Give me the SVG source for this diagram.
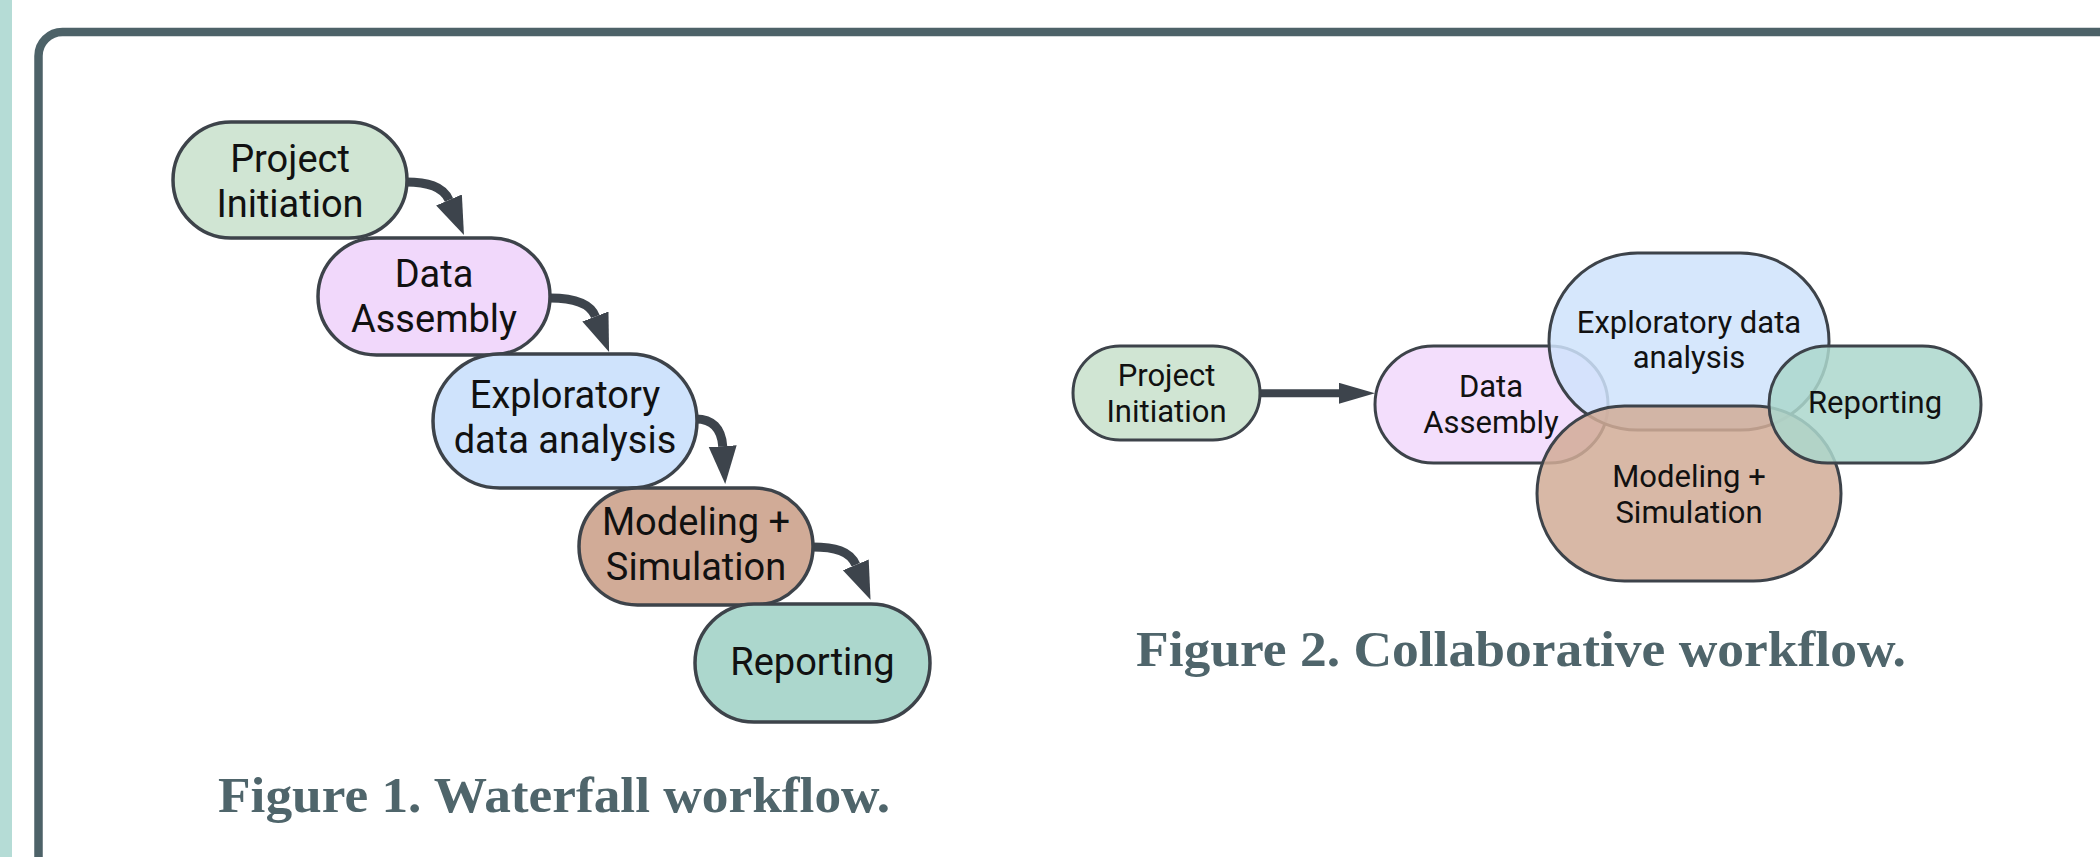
<svg xmlns="http://www.w3.org/2000/svg" width="2100" height="857" viewBox="0 0 2100 857">
<style>
.node{stroke:#3d434a;stroke-width:3.5}
.n2{stroke:#3d434a;stroke-width:3}
.t1{font-family:Roboto,"Liberation Sans",sans-serif;font-size:38px;fill:#111;text-anchor:middle}
.t2{font-family:Roboto,"Liberation Sans",sans-serif;font-size:31px;fill:#111;text-anchor:middle}
.cap{font-family:"Liberation Serif",serif;font-weight:bold;font-size:51px;fill:#4f656b}
.arr{fill:none;stroke:#3d444c;stroke-width:9}
.arr2{fill:none;stroke:#3d444c;stroke-width:8}
.pi{fill:#d0e5d3}.da{fill:#f1d8fb}.ex{fill:#cfe3fc}.mo{fill:#d1ab97}.re{fill:#acd7cd}
.tr{fill-opacity:.85}
</style>
<defs>
<marker id="head1" markerUnits="userSpaceOnUse" markerWidth="40" markerHeight="30" refX="0" refY="14" orient="auto"><path d="M0,0 L38,14 L0,28 z" fill="#3d444c"/></marker>
<marker id="head2" markerUnits="userSpaceOnUse" markerWidth="38" markerHeight="22" refX="0" refY="10.5" orient="auto"><path d="M0,0 L36,10.5 L0,21 z" fill="#3d444c"/></marker>
</defs>
<rect x="0" y="0" width="2100" height="857" fill="#fff"/>
<rect x="0" y="0" width="12" height="857" fill="#b5dcd6"/>
<rect x="38.5" y="32" width="2200" height="1000" rx="24" fill="#fff" stroke="#4d6268" stroke-width="8.5"/>

<g id="connectors">
<path class="arr" d="M406,182 C427,182 443,186 449,200" marker-end="url(#head1)"/>
<path class="arr" d="M550,298 C572,298 590,302.5 595.4,316.5" marker-end="url(#head1)"/>
<path class="arr" d="M696,419 C712,419 721.5,428 722.7,446.2" marker-end="url(#head1)"/>
<path class="arr" d="M812,547 C835,547 850,551 855.8,564.8" marker-end="url(#head1)"/>
<path class="arr2" d="M1259,393.3 L1339,393.3" marker-end="url(#head2)"/>
</g>

<g id="wf-project-initiation">
<rect class="node pi" x="173" y="122" width="234" height="116" rx="58"/>
<text class="t1" x="290" y="171.5">Project</text>
<text class="t1" x="290" y="216.5">Initiation</text>
</g>
<g id="wf-data-assembly">
<rect class="node da" x="318" y="238" width="232" height="117" rx="58.5"/>
<text class="t1" x="434" y="286.5">Data</text>
<text class="t1" x="434" y="331.5">Assembly</text>
</g>
<g id="wf-exploratory">
<rect class="node ex" x="433" y="354" width="264" height="134" rx="67"/>
<text class="t1" x="565" y="408.3">Exploratory</text>
<text class="t1" x="565" y="453.3">data analysis</text>
</g>
<g id="wf-modeling">
<rect class="node mo" x="579" y="488" width="234" height="117" rx="58.5"/>
<text class="t1" x="696" y="535">Modeling +</text>
<text class="t1" x="696" y="580">Simulation</text>
</g>
<g id="wf-reporting">
<rect class="node re" x="695" y="604" width="235" height="118" rx="59"/>
<text class="t1" x="812.5" y="675">Reporting</text>
</g>

<g id="co-project-initiation">
<rect class="n2 pi" x="1073" y="346" width="187" height="94" rx="47"/>
<text class="t2" x="1166.5" y="385.7">Project</text>
<text class="t2" x="1166.5" y="421.7">Initiation</text>
</g>
<g id="co-data-assembly">
<rect class="n2 da tr" x="1375" y="346" width="233" height="117" rx="58.5"/>
<text class="t2" x="1491" y="396.7">Data</text>
<text class="t2" x="1491" y="433.3">Assembly</text>
</g>
<g id="co-exploratory">
<rect class="n2 ex tr" x="1549" y="253" width="280" height="177" rx="88.5"/>
<text class="t2" x="1689" y="333.3">Exploratory data</text>
<text class="t2" x="1689" y="368.3">analysis</text>
</g>
<g id="co-modeling">
<rect class="n2 mo tr" x="1537" y="406" width="304" height="175" rx="87.5"/>
<text class="t2" x="1689" y="486.7">Modeling +</text>
<text class="t2" x="1689" y="523.3">Simulation</text>
</g>
<g id="co-reporting">
<rect class="n2 re tr" x="1769" y="346" width="212" height="117" rx="58.5"/>
<text class="t2" x="1875" y="413.3">Reporting</text>
</g>

<text class="cap" x="218" y="812" textLength="672" lengthAdjust="spacingAndGlyphs">Figure 1. Waterfall workflow.</text>
<text class="cap" x="1136" y="666" textLength="770" lengthAdjust="spacingAndGlyphs">Figure 2. Collaborative workflow.</text>
</svg>
